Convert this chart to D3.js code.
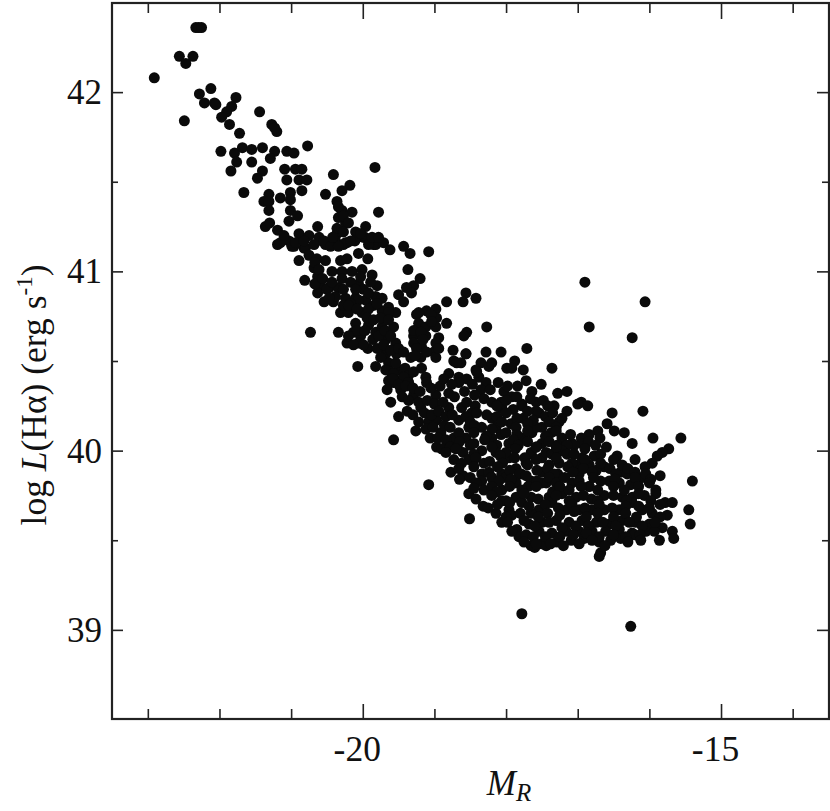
<!DOCTYPE html>
<html><head><meta charset="utf-8">
<script src="https://cdn.jsdelivr.net/npm/d3@7"></script>
<style>html,body{margin:0;background:#fff}svg{display:block}text{font-family:"Liberation Serif",serif;fill:#111}</style>
</head><body><svg id="c" width="830" height="811"></svg>
<script>
const xDomain=[-23.5,-13.5], yDomain=[38.5,42.5];
const xMajor=[-20,-15], xMinor=[-23,-22,-21,-19,-18,-17,-16,-14];
const yMajor=[39,40,41,42], yMinor=[39.5,40.5,41.5];
const outliers=[[-17.78,39.09],[-16.26,39.02],[-16.90,40.94],[-16.06,40.83],[-16.84,40.69],[-16.24,40.63]];
const brightTail=[[-22.33,42.36],[-22.29,42.36],[-22.25,42.36],[-22.56,42.20],[-22.37,42.20],[-22.47,42.16],[-22.91,42.08],[-22.12,42.02],[-22.28,41.99],[-21.77,41.97],[-22.21,41.94],[-22.07,41.94],[-22.05,41.93],[-21.83,41.92],[-21.90,41.89],[-21.97,41.86],[-21.44,41.89],[-22.49,41.84],[-21.86,41.82],[-21.27,41.82],[-21.20,41.78],[-21.23,41.80],[-21.72,41.77],[-21.98,41.67],[-21.79,41.66],[-21.68,41.69],[-21.55,41.68],[-21.40,41.69],[-21.23,41.67],[-21.06,41.67],[-20.96,41.66],[-20.77,41.70],[-21.76,41.61],[-21.55,41.61],[-21.29,41.63],[-21.84,41.56],[-21.40,41.56],[-21.47,41.52],[-21.09,41.57],[-20.94,41.57],[-20.85,41.57],[-21.06,41.51],[-20.89,41.51],[-20.78,41.51],[-20.41,41.54],[-19.83,41.58],[-20.18,41.48],[-20.29,41.45],[-21.66,41.44],[-21.31,41.43],[-21.38,41.39],[-21.31,41.39],[-21.15,41.41],[-21.01,41.44],[-21.01,41.40],[-20.85,41.45],[-20.52,41.43],[-21.31,41.34],[-21.01,41.34],[-20.36,41.39],[-20.91,41.31],[-21.03,41.28],[-20.29,41.34],[-20.15,41.33],[-20.34,41.30],[-20.24,41.27],[-19.78,41.33],[-21.36,41.25],[-21.30,41.27],[-21.19,41.23],[-20.63,41.25],[-19.96,41.25]];
const upperBand=[[-21.19,41.15],[-21.03,41.17],[-20.89,41.21],[-20.75,41.20],[-20.61,41.19],[-20.50,41.16],[-20.36,41.21],[-20.24,41.16],[-20.10,41.22],[-19.99,41.19],[-19.85,41.15],[-21.15,41.16],[-20.57,41.17],[-20.38,41.17],[-20.22,41.16],[-19.97,41.19],[-19.82,41.15],[-19.71,41.16],[-19.62,41.12],[-19.43,41.14],[-19.34,41.10],[-19.08,41.11],[-20.99,41.14],[-20.96,41.14],[-20.82,41.13],[-20.80,41.13],[-20.52,41.15],[-20.75,41.09],[-20.64,41.07],[-20.06,41.10],[-19.93,41.07],[-20.89,41.06],[-20.52,41.06],[-20.31,41.06],[-20.22,41.07],[-19.37,41.01],[-20.68,41.02],[-20.43,41.00],[-20.29,41.00],[-20.15,41.00],[-20.01,41.01],[-19.87,40.98],[-19.20,40.96],[-19.29,40.92],[-19.39,40.91],[-19.50,40.87],[-19.43,40.83],[-19.32,40.88],[-20.81,40.95],[-20.63,40.97],[-20.59,40.92],[-20.63,40.88],[-20.47,40.91],[-20.34,40.91],[-20.29,40.96],[-20.06,40.93],[-19.99,40.90],[-19.80,40.92],[-20.54,40.83],[-20.41,40.83],[-20.24,40.85],[-20.10,40.85],[-19.96,40.84],[-19.82,40.86],[-19.73,40.85],[-20.31,40.77],[-20.20,40.77],[-20.01,40.77],[-19.73,40.78],[-19.54,40.77],[-19.64,40.80],[-18.83,40.83],[-18.56,40.88],[-18.60,40.83],[-18.42,40.85],[-19.25,40.76],[-19.11,40.78],[-18.98,40.79],[-18.97,40.74],[-19.22,40.71],[-19.12,40.69],[-18.98,40.69],[-18.83,40.71],[-18.27,40.69],[-18.55,40.66],[-18.59,40.64],[-20.73,40.66],[-20.34,40.66],[-19.57,40.69],[-20.10,40.71],[-19.92,40.70],[-19.73,40.69],[-20.13,40.66],[-20.03,40.64],[-19.82,40.66],[-19.68,40.62],[-19.54,40.60],[-20.22,40.60],[-20.06,40.60],[-19.93,40.57],[-19.29,40.64],[-19.29,40.60],[-19.12,40.64],[-18.94,40.63],[-19.18,40.58],[-19.01,40.55],[-18.98,40.52],[-18.74,40.56],[-18.56,40.54],[-18.28,40.55],[-18.73,40.50],[-18.63,40.49],[-19.68,40.54],[-19.53,40.54],[-19.33,40.52],[-19.19,40.52]];
const upperFill=[[-21.10,41.20],[-20.94,41.16],[-20.82,41.17],[-20.68,41.15],[-20.54,41.17],[-20.45,41.14],[-20.27,41.15],[-20.11,41.17],[-20.03,41.21],[-19.92,41.15],[-19.87,41.19],[-19.78,41.19],[-20.34,41.36],[-20.27,41.31],[-20.20,41.27],[-20.36,41.24],[-20.27,41.22],[-20.17,41.17],[-20.34,41.14],[-20.42,41.19],[-20.67,41.05],[-20.61,41.01],[-20.67,40.93],[-20.56,40.96],[-20.50,40.90],[-20.43,40.94],[-20.38,40.86],[-20.27,40.90],[-20.17,40.94],[-20.10,40.90],[-19.89,40.94],[-20.03,40.97],[-19.92,40.88],[-20.06,40.84],[-20.17,40.82],[-20.27,40.81],[-20.47,40.85],[-19.85,40.81],[-20.20,40.81],[-20.08,40.79],[-19.92,40.79],[-19.80,40.82],[-19.64,40.77],[-19.94,40.74],[-19.85,40.73],[-19.75,40.74],[-19.64,40.73],[-20.08,40.67],[-19.97,40.67],[-19.86,40.62],[-19.78,40.64],[-19.69,40.67],[-19.61,40.64],[-20.20,40.64],[-20.13,40.59],[-19.99,40.59],[-19.80,40.57],[-19.71,40.59],[-19.61,40.56],[-19.50,40.57],[-19.43,40.55],[-19.64,40.49],[-19.75,40.52],[-19.61,40.44],[-19.50,40.45],[-19.41,40.46],[-19.57,40.38],[-19.47,40.39],[-19.36,40.42],[-19.29,40.44],[-19.22,40.77],[-19.05,40.76],[-19.04,40.72],[-19.29,40.67],[-19.19,40.66],[-18.98,40.60],[-19.16,40.62],[-19.25,40.57],[-19.11,40.55],[-18.94,40.57],[-19.27,40.53]];
const middleBand=[[-20.07,40.47],[-19.82,40.47],[-19.68,40.45],[-19.54,40.49],[-19.57,40.43],[-19.43,40.41],[-19.18,40.46],[-19.12,40.41],[-18.35,40.49],[-18.42,40.45],[-18.80,40.43],[-18.66,40.41],[-18.24,40.47],[-18.38,40.41],[-18.20,40.49],[-17.71,40.57],[-18.07,40.55],[-18.56,40.54],[-17.88,40.50],[-17.99,40.46],[-17.92,40.46],[-17.76,40.45],[-17.36,40.46],[-18.69,40.49],[-18.41,40.44],[-18.55,40.40],[-18.66,40.38],[-18.28,40.38],[-18.35,40.34],[-17.51,40.37],[-19.64,40.39],[-19.36,40.38],[-19.66,40.34],[-19.47,40.34],[-19.11,40.38],[-19.29,40.31],[-19.61,40.27],[-18.98,40.31],[-18.80,40.32],[-18.03,40.33],[-17.64,40.33],[-17.28,40.32],[-17.15,40.33],[-17.92,40.30],[-17.58,40.27],[-17.78,40.26],[-18.07,40.27],[-18.31,40.29],[-19.50,40.19],[-19.19,40.24],[-18.80,40.24],[-18.62,40.24],[-18.48,40.21],[-18.07,40.24],[-17.54,40.21],[-17.76,40.18],[-18.20,40.18],[-17.33,40.25],[-16.95,40.27],[-17.00,40.26],[-16.86,40.25],[-17.78,40.25],[-18.06,40.24],[-17.15,40.22],[-16.52,40.21],[-16.09,40.22],[-17.58,40.22],[-17.22,40.18],[-17.26,40.16],[-19.26,40.11],[-19.08,40.16],[-18.97,40.17],[-18.91,40.10],[-18.66,40.17],[-18.52,40.13],[-18.34,40.13],[-17.93,40.15],[-18.14,40.13],[-17.50,40.13],[-16.59,40.15],[-16.49,40.11],[-16.35,40.10],[-16.72,40.11],[-16.84,40.09],[-16.95,40.07],[-16.69,40.07],[-19.57,40.06],[-18.97,40.02],[-18.73,40.07],[-18.56,40.07],[-18.20,40.07],[-18.07,40.09],[-17.96,40.04],[-17.76,40.07],[-17.64,40.10],[-17.50,40.04],[-17.58,40.13],[-17.37,40.10],[-17.22,40.07],[-17.29,40.03],[-16.94,40.04],[-17.08,40.04],[-17.05,40.03],[-15.56,40.07],[-15.95,40.07],[-16.24,40.04],[-15.73,40.01],[-15.82,39.99],[-15.89,39.97]];
const middleFill=[[-19.58,40.40],[-19.50,40.37],[-19.40,40.36],[-19.30,40.35],[-19.20,40.33],[-19.05,40.35],[-18.92,40.36],[-19.45,40.30],[-19.36,40.28],[-19.22,40.27],[-19.10,40.28],[-19.00,40.26],[-18.88,40.27],[-19.38,40.22],[-19.30,40.20],[-19.14,40.21],[-19.04,40.20],[-18.94,40.22],[-18.84,40.19],[-18.75,40.20],[-19.22,40.16],[-19.12,40.12],[-19.02,40.13],[-18.86,40.14],[-18.78,40.13],[-19.06,40.07],[-18.95,40.07],[-18.84,40.06],[-18.66,40.10],[-18.90,40.01],[-18.78,40.02],[-18.68,40.02],[-18.50,40.03],[-18.87,40.40],[-18.76,40.37],[-18.72,40.30],[-18.58,40.33],[-18.47,40.37],[-18.44,40.31],[-18.22,40.34],[-18.11,40.38],[-17.98,40.36],[-17.84,40.36],[-17.72,40.39],[-17.66,40.29],[-17.85,40.30],[-18.00,40.28],[-17.48,40.28],[-17.42,40.25],[-18.55,40.27],[-18.43,40.25],[-18.20,40.27],[-18.13,40.25],[-17.90,40.23],[-18.56,40.19],[-18.41,40.21],[-18.27,40.20],[-18.13,40.19],[-18.00,40.21],[-17.85,40.18],[-17.70,40.22],[-17.62,40.17],[-17.45,40.19],[-17.35,40.21],[-18.50,40.16],[-18.44,40.14],[-18.20,40.12],[-18.06,40.16],[-17.86,40.13],[-17.70,40.15],[-17.40,40.16],[-17.30,40.13],[-18.45,40.10],[-18.28,40.08],[-18.00,40.10],[-17.85,40.09],[-17.70,40.11],[-17.45,40.08],[-17.30,40.11],[-17.10,40.09],[-18.65,40.05],[-18.45,40.04],[-18.30,40.06],[-18.13,40.03],[-17.90,40.06],[-17.83,40.03],[-17.70,40.05],[-17.58,40.02],[-17.40,40.05],[-17.15,40.03],[-16.85,40.05],[-16.75,40.03]];
const faintCloud=[[-18.84,39.99],[-18.60,39.99],[-18.34,40.00],[-18.73,39.95],[-18.52,39.95],[-18.31,39.93],[-18.14,39.99],[-17.96,39.96],[-17.65,39.99],[-17.50,39.96],[-18.00,39.99],[-17.44,39.99],[-17.65,39.98],[-17.22,40.00],[-17.15,39.98],[-16.77,39.97],[-16.94,39.96],[-15.96,39.93],[-16.06,39.91],[-16.63,39.91],[-17.01,39.92],[-16.84,39.92],[-17.26,39.93],[-16.74,39.89],[-17.28,39.87],[-16.10,39.85],[-15.40,39.83],[-18.77,39.88],[-18.60,39.86],[-19.08,39.81],[-18.34,39.87],[-18.06,39.87],[-17.86,39.90],[-17.79,39.87],[-17.50,39.88],[-16.98,39.87],[-16.40,39.88],[-16.31,39.87],[-16.56,39.83],[-16.68,39.83],[-16.26,39.81],[-16.42,39.82],[-17.08,39.82],[-16.84,39.80],[-17.44,39.82],[-17.65,39.83],[-18.00,39.85],[-18.34,39.83],[-17.82,39.87],[-15.91,39.78],[-16.84,39.80],[-18.52,39.76],[-18.31,39.78],[-18.06,39.78],[-17.86,39.82],[-17.69,39.80],[-17.50,39.82],[-16.07,39.75],[-16.38,39.74],[-16.63,39.75],[-15.91,39.76],[-16.24,39.74],[-16.81,39.73],[-17.02,39.74],[-17.22,39.76],[-17.40,39.74],[-17.65,39.74],[-17.86,39.74],[-18.06,39.72],[-15.78,39.71],[-15.68,39.71],[-15.45,39.67],[-15.43,39.59],[-15.75,39.64],[-15.96,39.65],[-16.10,39.67],[-16.24,39.71],[-16.42,39.67],[-16.63,39.67],[-16.80,39.67],[-16.98,39.67],[-17.16,39.67],[-17.36,39.71],[-17.54,39.67],[-17.78,39.71],[-17.96,39.67],[-18.32,39.69],[-18.51,39.62],[-18.14,39.65],[-18.06,39.60],[-17.92,39.64],[-17.65,39.65],[-17.50,39.60],[-17.30,39.61],[-17.12,39.60],[-16.94,39.61],[-16.74,39.60],[-16.56,39.59],[-16.38,39.61],[-16.19,39.60],[-16.00,39.59],[-15.82,39.57],[-17.85,39.56],[-17.68,39.59],[-17.82,39.52],[-17.54,39.55],[-17.36,39.54],[-17.16,39.55],[-16.98,39.55],[-16.80,39.55],[-16.61,39.55],[-16.42,39.56],[-16.24,39.54],[-16.05,39.55],[-15.93,39.55],[-15.68,39.55],[-15.66,39.51],[-15.86,39.50],[-16.21,39.53],[-16.40,39.51],[-16.54,39.50],[-16.70,39.49],[-16.91,39.51],[-17.09,39.50],[-17.29,39.49],[-17.44,39.47],[-17.65,39.47],[-17.60,39.46],[-17.50,39.48],[-16.68,39.43],[-16.70,39.41]];
const faintFill=[[-18.70,40.01],[-18.45,39.98],[-18.20,40.02],[-18.08,39.97],[-17.87,40.01],[-17.74,39.96],[-17.58,40.02],[-17.36,39.98],[-17.30,40.02],[-17.05,39.98],[-16.90,40.01],[-16.68,39.98],[-16.60,40.02],[-16.45,39.97],[-18.62,39.93],[-18.42,39.96],[-18.23,39.94],[-18.05,39.93],[-17.88,39.96],[-17.72,39.93],[-17.58,39.95],[-17.40,39.92],[-17.30,39.96],[-17.08,39.93],[-16.90,39.95],[-16.68,39.93],[-16.50,39.95],[-16.38,39.92],[-16.20,39.95],[-18.66,39.90],[-18.45,39.91],[-18.24,39.88],[-18.12,39.91],[-17.95,39.89],[-17.70,39.92],[-17.57,39.89],[-17.42,39.90],[-17.33,39.87],[-17.14,39.91],[-17.07,39.88],[-16.92,39.90],[-16.80,39.88],[-16.55,39.90],[-16.47,39.87],[-16.30,39.90],[-16.20,39.88],[-16.05,39.87],[-18.65,39.84],[-18.50,39.85],[-18.42,39.82],[-18.20,39.85],[-18.10,39.83],[-17.93,39.84],[-17.72,39.86],[-17.57,39.83],[-17.40,39.85],[-17.30,39.82],[-17.18,39.85],[-16.98,39.83],[-16.78,39.85],[-16.48,39.84],[-16.20,39.85],[-15.98,39.84],[-15.85,39.86],[-18.45,39.79],[-18.20,39.80],[-18.13,39.77],[-17.95,39.80],[-17.78,39.78],[-17.58,39.80],[-17.35,39.77],[-17.25,39.80],[-17.12,39.78],[-16.95,39.80],[-16.72,39.78],[-16.50,39.80],[-16.35,39.78],[-16.15,39.80],[-16.00,39.82],[-18.42,39.73],[-18.20,39.75],[-18.00,39.72],[-17.75,39.76],[-17.55,39.73],[-17.30,39.75],[-17.12,39.72],[-16.92,39.75],[-16.72,39.72],[-16.50,39.75],[-16.32,39.72],[-16.15,39.76],[-15.98,39.72],[-18.25,39.68],[-18.12,39.70],[-17.95,39.71],[-17.68,39.69],[-17.45,39.70],[-17.27,39.68],[-17.08,39.70],[-16.90,39.68],[-16.70,39.70],[-16.52,39.68],[-16.33,39.69],[-16.15,39.69],[-16.00,39.68],[-15.85,39.70],[-18.00,39.63],[-17.80,39.65],[-17.55,39.63],[-17.42,39.65],[-17.25,39.64],[-17.05,39.66],[-16.88,39.63],[-16.72,39.65],[-16.50,39.63],[-16.33,39.65],[-16.18,39.63],[-15.85,39.63],[-17.98,39.60],[-17.75,39.61],[-17.60,39.58],[-17.40,39.60],[-17.22,39.57],[-17.03,39.58],[-16.85,39.58],[-16.65,39.60],[-16.47,39.58],[-16.28,39.60],[-16.10,39.58],[-15.92,39.60],[-17.92,39.55],[-17.72,39.53],[-17.62,39.52],[-17.45,39.52],[-17.25,39.52],[-17.06,39.53],[-16.88,39.54],[-16.70,39.52],[-16.50,39.53],[-16.33,39.52],[-16.13,39.53],[-17.75,39.49],[-17.58,39.48],[-17.38,39.48],[-17.20,39.47],[-16.98,39.48],[-16.80,39.50],[-16.62,39.47],[-16.30,39.49],[-16.12,39.50]];
const x=d3.scaleLinear().domain(xDomain).range([112,828.5]);
const y=d3.scaleLinear().domain(yDomain).range([719.5,2.5]);
const svg=d3.select('#c');
const allPoints=[...brightTail,...upperBand,...upperFill,...middleBand,...middleFill,...faintCloud,...faintFill,...outliers];
svg.append('g').selectAll('circle').data(allPoints).join('circle')
  .attr('cx',d=>x(d[0])).attr('cy',d=>y(d[1])).attr('r',5.5).attr('fill','#0a0a0a');
function axis(gen,tx,ty,vals,size,label){
  const g=svg.append('g').attr('transform',`translate(${tx},${ty})`).call(gen.tickValues(vals).tickSize(size).tickSizeOuter(0).tickFormat(label?String:''));
  g.select('.domain').remove();
  g.selectAll('line').attr('stroke','#222').attr('stroke-width',1.6);
  return g;
}
axis(d3.axisBottom(x),0,719,xMinor,-10);
axis(d3.axisBottom(x),0,719,xMajor,-15,true).selectAll('text').attr('dy',0).attr('x',-6).attr('y',42).attr('font-size',35.5).attr('text-anchor','middle');
axis(d3.axisTop(x),0,3,xMinor,-10);
axis(d3.axisTop(x),0,3,xMajor,-16);
axis(d3.axisLeft(y),112,0,yMinor,-6);
axis(d3.axisLeft(y),112,0,yMajor,-11,true).selectAll('text').attr('x',-10).attr('dy','0.33em').attr('font-size',35).attr('text-anchor','end');
axis(d3.axisRight(y),828,0,yMinor,-6);
axis(d3.axisRight(y),828,0,yMajor,-11);
svg.append('rect').attr('x',112).attr('y',3).attr('width',717).attr('height',716).attr('fill','none').attr('stroke','#222').attr('stroke-width',2.2);
const xl=svg.append('text').attr('x',509).attr('y',795).attr('font-size',35).attr('text-anchor','middle');
xl.append('tspan').attr('font-style','italic').text('M');
xl.append('tspan').attr('font-style','italic').attr('font-size',25).attr('dy',6).text('R');
const yl=svg.append('text').attr('transform','translate(46,395) rotate(-90)').attr('font-size',35.5).attr('text-anchor','middle');
yl.append('tspan').text('log ');
yl.append('tspan').attr('font-style','italic').text('L');
yl.append('tspan').text('(Hα) (erg s');
yl.append('tspan').attr('font-size',23).attr('dy',-14).text('-1');
yl.append('tspan').attr('dy',14).text(')');
</script></body></html>
